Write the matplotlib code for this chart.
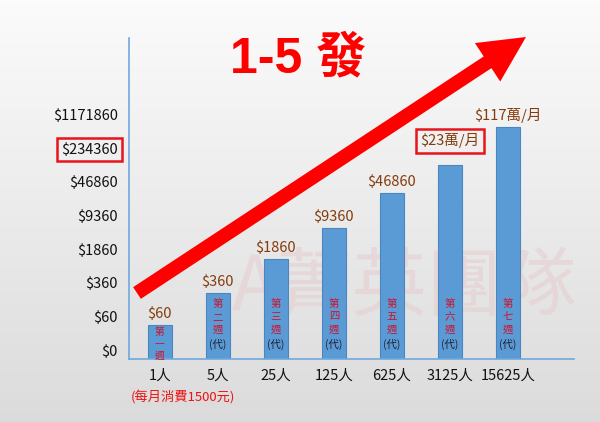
import numpy as np
import matplotlib
matplotlib.use("Agg")
import matplotlib.pyplot as plt
from matplotlib.patches import FancyArrow

plt.rcParams['font.family'] = ['Noto Sans CJK TC', 'DejaVu Sans']

# ---- data ----
people = ["1人", "5人", "25人", "125人", "625人", "3125人", "15625人"]
bar_height = [1.0, 1.96, 2.98, 3.9, 4.94, 5.77, 6.9]
bar_labels = ["$60", "$360", "$1860", "$9360", "$46860", "$23萬/月", "$117萬/月"]
week_labels = ["第一週", "第二週", "第三週", "第四週", "第五週", "第六週", "第七週"]
y_labels = ["$0", "$60", "$360", "$1860", "$9360", "$46860", "$234360", "$1171860"]

BLUE = "#5B9BD5"
AXIS = "#6FA8DC"
BROWN = "#843C0C"
WEEK_RED = "#D0102A"

fig = plt.figure(figsize=(6, 4.22), dpi=100)

# background gradient
bg = fig.add_axes([0, 0, 1, 1], zorder=-10)
grad = np.linspace(0.985, 0.86, 256).reshape(-1, 1)
bg.imshow(np.dstack([grad, grad, grad]), aspect="auto", extent=[0, 1, 0, 1])
bg.axis("off")

ax = fig.add_axes([0.215, 0.149, 0.742, 0.761])
ax.set_facecolor("none")
x = np.arange(len(people))
ax.bar(x, bar_height, width=0.42, color=BLUE, edgecolor="#4A86C0",
       linewidth=0.8, zorder=2)
ax.set_xlim(-0.53, 7.14)
ax.set_ylim(0, 9.55)

for s in ["top", "right"]:
    ax.spines[s].set_visible(False)
for s in ["left", "bottom"]:
    ax.spines[s].set_color(AXIS)
    ax.spines[s].set_linewidth(1.2)

ax.set_xticks(x)
ax.set_xticklabels(people, fontsize=10.5, color="#111111")
ax.tick_params(axis="x", length=0, pad=7)
ax.set_yticks(np.arange(len(y_labels)) + 0.27)
ax.set_yticklabels(y_labels, fontsize=10.5, color="#111111")
ax.tick_params(axis="y", length=0, pad=8)
ax.get_yticklabels()[6].set_bbox(dict(boxstyle="square,pad=0.3", fc="none",
                                      ec="#E8141A", lw=1.8))

# value labels above bars
for i, (h, lab) in enumerate(zip(bar_height, bar_labels)):
    off = 12 if i == 5 else 3
    kw = {}
    if i == 5:
        kw["bbox"] = dict(boxstyle="square,pad=0.3", fc="none", ec="#E8141A", lw=1.8)
    ax.annotate(lab, (i, h), xytext=(0, off), textcoords="offset points",
                ha="center", va="bottom", fontsize=10.5, color=BROWN, zorder=5, **kw)

# vertical week text inside bars (one text per bar, stacked characters)
for i, w in enumerate(week_labels):
    stacked = "\n".join(w)
    if i == 0:
        ax.text(i, 0.97, stacked, ha="center", va="top", fontsize=7,
                linespacing=1.25, color=WEEK_RED, zorder=4)
    else:
        ax.text(i, 1.8, stacked, ha="center", va="top", fontsize=7.5,
                linespacing=1.4, color=WEEK_RED, zorder=4)
        ax.text(i, 0.6, "(代)", ha="center", va="top", fontsize=7.5,
                color="#1E1E2E", zorder=4)

# watermark behind bars
ax.text(0.675, 0.318, "A菁英團隊", transform=fig.transFigure, ha="center",
        va="center", fontsize=54, color="#E6CFCF", alpha=0.6, zorder=0.5)

# note under first category
fig.text(183 / 600, 1 - 397 / 422, "(每月消費1500元)", ha="center", va="center",
         fontsize=9.5, color="#F01010")

# big red arrow (figure inches)
tail = (1.37, (422 - 293) / 100)
tip = (5.26, (422 - 37) / 100)
arrow = FancyArrow(tail[0], tail[1], tip[0] - tail[0], tip[1] - tail[1],
                   width=0.14, head_width=0.46, head_length=0.46,
                   length_includes_head=True, color="#FF0000", lw=0,
                   transform=fig.dpi_scale_trans, zorder=10)
fig.add_artist(arrow)

fig.text(298 / 600, 1 - 59 / 422, "1-5 發", ha="center", va="center",
         fontsize=36, fontweight="bold", color="#FF0000",
         family=["Liberation Sans", "Noto Sans CJK TC"])

fig.savefig("out.png", dpi=100)
